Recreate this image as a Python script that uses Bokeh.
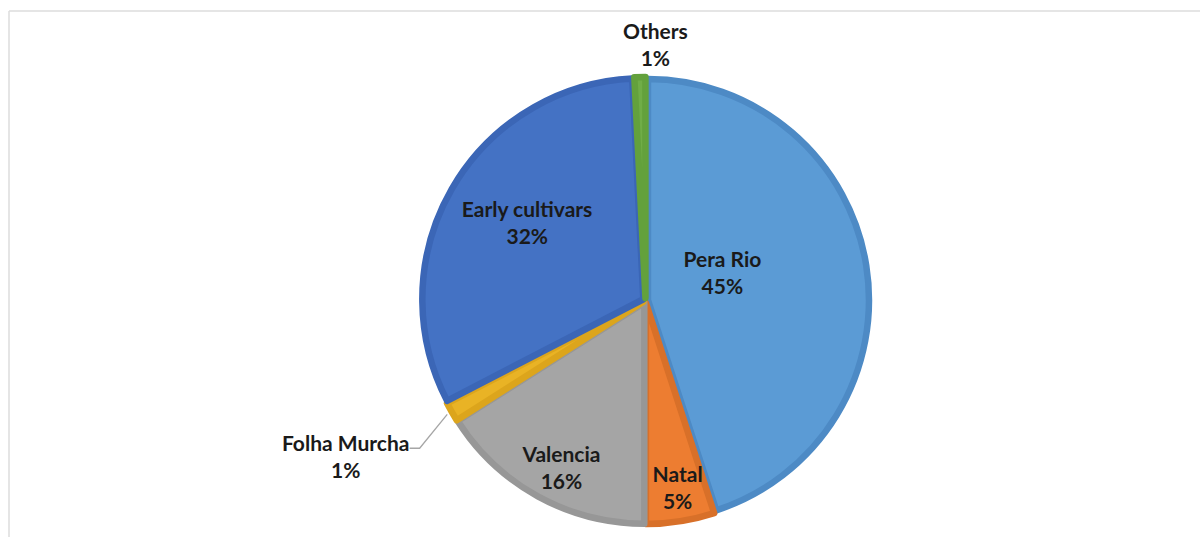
import math
from bokeh.plotting import figure
from bokeh.models import Range1d, ColumnDataSource
from bokeh.embed import file_html
from bokeh.resources import INLINE
from bokeh.core.properties import value

# ---- data ----
categories = ["Pera Rio", "Natal", "Valencia", "Folha Murcha", "Early cultivars", "Others"]
shares = [45.0, 5.0, 16.0, 1.4, 31.8, 0.8]
pct_labels = ["45%", "5%", "16%", "1%", "32%", "1%"]

# ---- styles ----
fills = ["#5B9BD5", "#ED7D31", "#A5A5A5", "#E9B325", "#4472C4", "#70AD47"]
edges = ["#4D8AC5", "#D87029", "#979797", "#DCA51C", "#3B66B6", "#63A13C"]

# label placement: (distance as fraction of radius, angle clockwise from top in degrees)
label_polar = [(0.37, 69.4), (0.85, 170.2), (0.84, 206.8), (1.52, 242.7), (0.64, 303.7), (1.16, 2.2)]

W, H = 1200, 537
PAGE_H = 539
# data coords: x = page pixel x, y = 539 - page pixel y
CX, CY = 645.0, PAGE_H - 300.0
R = 222.0
EXPLODE = 2.5

p = figure(width=W, height=H, output_backend="svg", toolbar_location=None,
           x_range=Range1d(0, W), y_range=Range1d(PAGE_H - H, PAGE_H),
           min_border=0, outline_line_color=None)
p.axis.visible = False
p.grid.visible = False
p.background_fill_color = "white"

# frame lines (top and left only visible in the reference)
p.segment(x0=[8.5, 8.5], y0=[PAGE_H - 10.5, PAGE_H - 10.5], x1=[W, 8.5], y1=[PAGE_H - 10.5, 0],
          line_color="#dcdcdc", line_width=1.5)

total = sum(shares)
cum = 0.0
xs, ys, starts, ends = [], [], [], []
mids = []
for s in shares:
    a0 = cum / total * 360.0
    a1 = (cum + s) / total * 360.0
    cum += s
    mid = (a0 + a1) / 2.0
    mids.append(mid)
    xs.append(CX + EXPLODE * math.sin(math.radians(mid)))
    ys.append(CY + EXPLODE * math.cos(math.radians(mid)))
    starts.append(math.radians(90.0 - a1))
    ends.append(math.radians(90.0 - a0))

src = ColumnDataSource(dict(x=xs, y=ys, start=starts, end=ends, fill=fills, edge=edges))
p.wedge(x="x", y="y", radius=R - 1.0, start_angle="start", end_angle="end",
        direction="anticlock", fill_color="fill", line_color="edge",
        line_width=6.5, line_join="round", source=src)

# labels
lx, ly = [], []
for (f, ang) in label_polar:
    lx.append(CX + f * R * math.sin(math.radians(ang)))
    ly.append(CY + f * R * math.cos(math.radians(ang)))

# leader line for Folha Murcha
i = categories.index("Folha Murcha")
rim_x = CX + R * 1.03 * math.sin(math.radians(mids[i]))
rim_y = CY + R * 1.03 * math.cos(math.radians(mids[i]))
elbow_x = lx[i] + 74
elbow_y = ly[i] + 7
p.line(x=[lx[i] + 64, elbow_x, rim_x], y=[elbow_y, elbow_y, rim_y],
       line_color="#A6A6A6", line_width=1.3)

font = value("Lato")
p.text(x=lx, y=[y + 13 for y in ly], text=categories, text_font=font,
       text_font_style="bold", text_font_size="21px", text_color="#1a1a1a",
       text_align="center", text_baseline="middle")
p.text(x=lx, y=[y - 14 for y in ly], text=pct_labels, text_font=font,
       text_font_style="bold", text_font_size="21px", text_color="#1a1a1a",
       text_align="center", text_baseline="middle")

open("out.html", "w").write(file_html(p, INLINE))
